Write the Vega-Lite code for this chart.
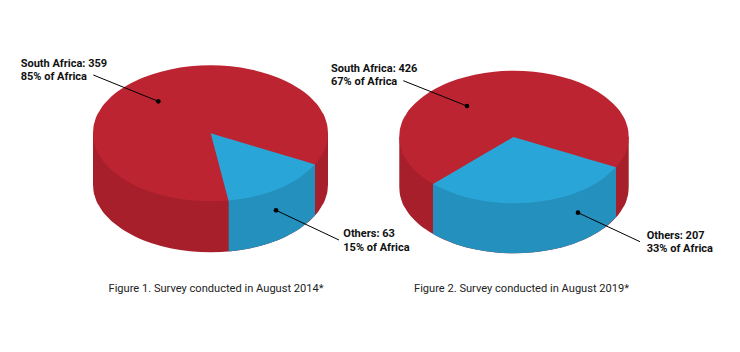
{"$schema":"https://vega.github.io/schema/vega-lite/v6.json","width":740,"height":352,"padding":0,"autosize":{"type":"fit","contains":"padding"},"background":"white","view":{"stroke":null},
"datasets":{
"side":[
{"f":1,"x":93,"y":133.3,"y2":184.3},{"f":1,"x":93.45,"y":133.3,"y2":190.2},{"f":1,"x":94.8,"y":133.3,"y2":196.1},{"f":1,"x":100.1,"y":133.3,"y2":207.6},{"f":1,"x":108.7,"y":133.3,"y2":218.3},{"f":1,"x":120.5,"y":133.3,"y2":228},{"f":1,"x":135,"y":133.3,"y2":236.4},{"f":1,"x":151.75,"y":133.3,"y2":243.2},{"f":1,"x":170.3,"y":133.3,"y2":248.2},{"f":1,"x":190.1,"y":133.3,"y2":251.3},{"f":1,"x":210.5,"y":133.3,"y2":252.3},{"f":1,"x":230.9,"y":133.3,"y2":251.3},{"f":1,"x":250.7,"y":133.3,"y2":248.2},{"f":1,"x":269.25,"y":133.3,"y2":243.2},{"f":1,"x":286,"y":133.3,"y2":236.4},{"f":1,"x":300.5,"y":133.3,"y2":228},{"f":1,"x":312.3,"y":133.3,"y2":218.3},{"f":1,"x":320.9,"y":133.3,"y2":207.6},{"f":1,"x":326.2,"y":133.3,"y2":196.1},{"f":1,"x":327.55,"y":133.3,"y2":190.2},{"f":1,"x":328,"y":133.3,"y2":184.3},
{"f":2,"x":399.3,"y":137,"y2":187},{"f":2,"x":399.7,"y":137,"y2":192.8},{"f":2,"x":401,"y":137,"y2":198.5},{"f":2,"x":406.2,"y":137,"y2":209.7},{"f":2,"x":414.7,"y":137,"y2":220.15},{"f":2,"x":426.1,"y":137,"y2":229.6},{"f":2,"x":440.3,"y":137,"y2":237.8},{"f":2,"x":456.65,"y":137,"y2":244.4},{"f":2,"x":474.8,"y":137,"y2":249.3},{"f":2,"x":494.1,"y":137,"y2":252.3},{"f":2,"x":514,"y":137,"y2":253.3},{"f":2,"x":533.9,"y":137,"y2":252.3},{"f":2,"x":553.2,"y":137,"y2":249.3},{"f":2,"x":571.35,"y":137,"y2":244.4},{"f":2,"x":587.7,"y":137,"y2":237.8},{"f":2,"x":601.9,"y":137,"y2":229.6},{"f":2,"x":613.3,"y":137,"y2":220.15},{"f":2,"x":621.8,"y":137,"y2":209.7},{"f":2,"x":627,"y":137,"y2":198.5},{"f":2,"x":628.3,"y":137,"y2":192.8},{"f":2,"x":628.7,"y":137,"y2":187}],
"sideOthers":[
{"f":1,"x":228.7,"y":200.5,"y2":251.5},{"f":1,"x":230.9,"y":200.3,"y2":251.3},{"f":1,"x":250.7,"y":197.2,"y2":248.2},{"f":1,"x":269.25,"y":192.2,"y2":243.2},{"f":1,"x":286,"y":185.4,"y2":236.4},{"f":1,"x":300.5,"y":177,"y2":228},{"f":1,"x":315,"y":164.4,"y2":215.4},
{"f":2,"x":433,"y":183.95,"y2":233.95},{"f":2,"x":440.3,"y":187.8,"y2":237.8},{"f":2,"x":456.65,"y":194.4,"y2":244.4},{"f":2,"x":474.8,"y":199.3,"y2":249.3},{"f":2,"x":494.1,"y":202.3,"y2":252.3},{"f":2,"x":514,"y":203.3,"y2":253.3},{"f":2,"x":533.9,"y":202.3,"y2":252.3},{"f":2,"x":553.2,"y":199.3,"y2":249.3},{"f":2,"x":571.35,"y":194.4,"y2":244.4},{"f":2,"x":587.7,"y":187.8,"y2":237.8},{"f":2,"x":601.9,"y":179.6,"y2":229.6},{"f":2,"x":616,"y":167.3,"y2":217.3}],
"top":[
{"f":1,"x":93,"y":133.3,"y2":133.3},{"f":1,"x":93.45,"y":127.4,"y2":139.2},{"f":1,"x":94.8,"y":121.5,"y2":145.1},{"f":1,"x":100.1,"y":110,"y2":156.6},{"f":1,"x":108.7,"y":99.3,"y2":167.3},{"f":1,"x":120.5,"y":89.6,"y2":177},{"f":1,"x":135,"y":81.2,"y2":185.4},{"f":1,"x":151.75,"y":74.4,"y2":192.2},{"f":1,"x":170.3,"y":69.4,"y2":197.2},{"f":1,"x":190.1,"y":66.3,"y2":200.3},{"f":1,"x":210.5,"y":65.3,"y2":201.3},{"f":1,"x":230.9,"y":66.3,"y2":200.3},{"f":1,"x":250.7,"y":69.4,"y2":197.2},{"f":1,"x":269.25,"y":74.4,"y2":192.2},{"f":1,"x":286,"y":81.2,"y2":185.4},{"f":1,"x":300.5,"y":89.6,"y2":177},{"f":1,"x":312.3,"y":99.3,"y2":167.3},{"f":1,"x":320.9,"y":110,"y2":156.6},{"f":1,"x":326.2,"y":121.5,"y2":145.1},{"f":1,"x":327.55,"y":127.4,"y2":139.2},{"f":1,"x":328,"y":133.3,"y2":133.3},
{"f":2,"x":399.3,"y":137,"y2":137},{"f":2,"x":399.7,"y":131.2,"y2":142.8},{"f":2,"x":401,"y":125.5,"y2":148.5},{"f":2,"x":406.2,"y":114.3,"y2":159.7},{"f":2,"x":414.7,"y":103.85,"y2":170.15},{"f":2,"x":426.1,"y":94.4,"y2":179.6},{"f":2,"x":440.3,"y":86.2,"y2":187.8},{"f":2,"x":456.65,"y":79.6,"y2":194.4},{"f":2,"x":474.8,"y":74.7,"y2":199.3},{"f":2,"x":494.1,"y":71.7,"y2":202.3},{"f":2,"x":514,"y":70.7,"y2":203.3},{"f":2,"x":533.9,"y":71.7,"y2":202.3},{"f":2,"x":553.2,"y":74.7,"y2":199.3},{"f":2,"x":571.35,"y":79.6,"y2":194.4},{"f":2,"x":587.7,"y":86.2,"y2":187.8},{"f":2,"x":601.9,"y":94.4,"y2":179.6},{"f":2,"x":613.3,"y":103.85,"y2":170.15},{"f":2,"x":621.8,"y":114.3,"y2":159.7},{"f":2,"x":627,"y":125.5,"y2":148.5},{"f":2,"x":628.3,"y":131.2,"y2":142.8},{"f":2,"x":628.7,"y":137,"y2":137}],
"topOthers":[
{"f":1,"x":210.7,"y":133.3,"y2":133.3},{"f":1,"x":228.7,"y":138.7,"y2":201.5},{"f":1,"x":230.9,"y":139.3,"y2":201.3},{"f":1,"x":250.7,"y":145.2,"y2":198.2},{"f":1,"x":269.25,"y":150.8,"y2":193.2},{"f":1,"x":286,"y":155.8,"y2":186.4},{"f":1,"x":300.5,"y":160.1,"y2":178},{"f":1,"x":315,"y":164.4,"y2":165.4},
{"f":2,"x":433,"y":184,"y2":185},{"f":2,"x":440.3,"y":179.7,"y2":188.8},{"f":2,"x":456.65,"y":170.2,"y2":195.4},{"f":2,"x":474.8,"y":159.6,"y2":200.3},{"f":2,"x":494.1,"y":148.3,"y2":203.3},{"f":2,"x":513.5,"y":137,"y2":204.3},{"f":2,"x":533.9,"y":143,"y2":203.3},{"f":2,"x":553.2,"y":148.7,"y2":200.3},{"f":2,"x":571.35,"y":154.1,"y2":195.4},{"f":2,"x":587.7,"y":158.9,"y2":188.8},{"f":2,"x":601.9,"y":163.1,"y2":180.6},{"f":2,"x":616,"y":167.3,"y2":168.3}],
"leaders":[
{"x":93.3,"y":75,"x2":158.3,"y2":101.3},{"x":339,"y":240,"x2":276,"y2":210.3},{"x":403.3,"y":80.7,"x2":467,"y2":106},{"x":640,"y":241.7,"x2":578,"y2":212.7}],
"labels":[
{"x":20.7,"y":66.7,"t":"South Africa: 359"},{"x":20.7,"y":80.3,"t":"85% of Africa"},{"x":343.3,"y":237,"t":"Others: 63"},{"x":343.3,"y":250.7,"t":"15% of Africa"},{"x":331,"y":71.7,"t":"South Africa: 426"},{"x":331,"y":85,"t":"67% of Africa"},{"x":646.7,"y":239,"t":"Others: 207"},{"x":646.7,"y":252.3,"t":"33% of Africa"}],
"captions":[{"x":108.5,"y":292,"t":"Figure 1. Survey conducted in August 2014*"},{"x":414,"y":292,"t":"Figure 2. Survey conducted in August 2019*"}]
},
"encoding":{
"x":{"field":"x","type":"quantitative","scale":{"domain":[0,740],"nice":false,"zero":false},"axis":null},
"y":{"field":"y","type":"quantitative","scale":{"domain":[352,0],"nice":false,"zero":false},"axis":null}
},
"layer":[
{"data":{"name":"side"},"mark":{"type":"area","color":"#a61f2b","interpolate":"monotone","orient":"vertical"},"encoding":{"y2":{"field":"y2"},"detail":{"field":"f"}}},
{"data":{"name":"top"},"mark":{"type":"area","color":"#bd2431","interpolate":"monotone","orient":"vertical"},"encoding":{"y2":{"field":"y2"},"detail":{"field":"f"}}},
{"data":{"name":"topOthers"},"mark":{"type":"area","color":"#29a6d7","interpolate":"linear","orient":"vertical"},"encoding":{"y2":{"field":"y2"},"detail":{"field":"f"}}},
{"data":{"name":"sideOthers"},"mark":{"type":"area","color":"#2490bd","interpolate":"monotone","orient":"vertical"},"encoding":{"y2":{"field":"y2"},"detail":{"field":"f"}}},
{"data":{"name":"leaders"},"mark":{"type":"rule","color":"#000000","strokeWidth":1},"encoding":{"x2":{"field":"x2"},"y2":{"field":"y2"}}},
{"data":{"name":"leaders"},"mark":{"type":"point","filled":true,"color":"#000000","opacity":1,"size":22},"encoding":{"x":{"field":"x2","type":"quantitative"},"y":{"field":"y2","type":"quantitative"}}},
{"data":{"name":"labels"},"mark":{"type":"text","align":"left","baseline":"alphabetic","font":"Roboto","fontWeight":700,"fontSize":11,"color":"#111111"},"encoding":{"text":{"field":"t"}}},
{"data":{"name":"captions"},"mark":{"type":"text","align":"left","baseline":"alphabetic","font":"Roboto","fontWeight":400,"fontSize":11.1,"color":"#222222"},"encoding":{"text":{"field":"t"}}}
]}
